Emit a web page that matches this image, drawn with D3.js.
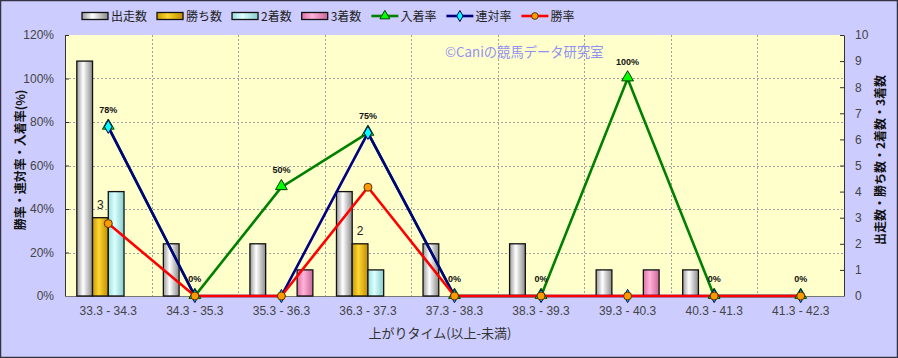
<!DOCTYPE html>
<html><head><meta charset="utf-8">
<script src="https://cdn.jsdelivr.net/npm/d3@7"></script>
<style>body{margin:0;background:#fff}svg{display:block}</style>
</head><body><svg id="c" width="898" height="358"></svg>
<script>
const categories = ["33.3 - 34.3","34.3 - 35.3","35.3 - 36.3","36.3 - 37.3","37.3 - 38.3","38.3 - 39.3","39.3 - 40.3","40.3 - 41.3","41.3 - 42.3"];
const starts   = [9,2,2,4,2,2,1,1,0];
const wins     = [3,0,0,2,0,0,0,0,0];
const seconds  = [4,0,0,1,0,0,0,0,0];
const thirds   = [0,0,1,0,0,0,1,0,0];
const placeRate    = [77.8,0,50,75,0,0,100,0,0];
const quinellaRate = [77.8,0,0,75,0,0,0,0,0];
const winRate      = [33.3,0,0,50,0,0,0,0,0];
const placeLabels  = ["78%","0%","50%","75%","0%","0%","100%","0%","0%"];
const winLabels    = ["3","","","2","","","","",""];
const leftTicks  = [0,20,40,60,80,100,120];
const rightTicks = [0,1,2,3,4,5,6,7,8,9,10];
const barNames  = ["出走数","勝ち数","2着数","3着数"];
const lineNames = ["入着率","連対率","勝率"];
const leftTitle  = "勝率・連対率・入着率(%)";
const rightTitle = "出走数・勝ち数・2着数・3着数";
const xTitle     = "上がりタイム(以上-未満)";
const watermark  = "©Caniの競馬データ研究室";

const svg = d3.select("#c");
const W = 898, H = 358;
const L = 65, R = 844, T = 35, B = 296;
const jp = "'Noto Sans CJK JP','Noto Sans',sans-serif";
const num = "'Liberation Sans',Arial,sans-serif";

// background
svg.append("rect").attr("x",0.5).attr("y",0.5).attr("width",W-1).attr("height",H-1)
  .attr("fill","#ccccff").attr("stroke","#333344").attr("stroke-width",1.5);
svg.append("rect").attr("x",L).attr("y",T).attr("width",R-L).attr("height",B-T).attr("fill","#ffffcc");

const x = d3.scaleBand().domain(categories).range([L,R]).paddingInner(0).paddingOuter(0);
const x1 = d3.scaleBand().domain(barNames).range([0,x.bandwidth()]).paddingInner(0).paddingOuter(0.75);
const yL = d3.scaleLinear().domain([0,120]).range([B,T]);
const yR = d3.scaleLinear().domain([0,10]).range([B,T]);

// gradients
const defs = svg.append("defs");
const grads = {
  "出走数":["#9a9a9a","#ffffff","#8a8a8a"],
  "勝ち数":["#c89a00","#ffd633","#c08c00"],
  "2着数":["#99dddd","#ddffff","#88cccc"],
  "3着数":["#dd6fa4","#ffb3d9","#cc6699"]
};
barNames.forEach((n,i)=>{
  const g = defs.append("linearGradient").attr("id","g"+i).attr("x1","0").attr("x2","1").attr("y1","0").attr("y2","0");
  g.append("stop").attr("offset","0").attr("stop-color",grads[n][0]);
  g.append("stop").attr("offset","0.4").attr("stop-color",grads[n][1]);
  g.append("stop").attr("offset","1").attr("stop-color",grads[n][2]);
});

// grid
const gridG = svg.append("g").attr("stroke","#a0a0a0").attr("stroke-dasharray","2,2").attr("stroke-width",1);
leftTicks.slice(1,-1).forEach(t=>{
  gridG.append("line").attr("x1",L).attr("x2",R).attr("y1",Math.round(yL(t))+0.5).attr("y2",Math.round(yL(t))+0.5);
});
categories.slice(1).forEach(c=>{
  gridG.append("line").attr("x1",Math.round(x(c))+0.5).attr("x2",Math.round(x(c))+0.5).attr("y1",T).attr("y2",B);
});

// axes
const axL = svg.append("g").attr("transform",`translate(${L},0)`)
  .call(d3.axisLeft(yL).tickValues(leftTicks).tickFormat(d=>d+"%").tickSizeInner(-4).tickSizeOuter(0).tickPadding(11));
const axR = svg.append("g").attr("transform",`translate(${R},0)`)
  .call(d3.axisRight(yR).tickValues(rightTicks).tickFormat(d=>d).tickSizeInner(-4).tickSizeOuter(0).tickPadding(11));
[axL,axR].forEach(a=>{
  a.selectAll("path,line").attr("stroke","#333");
  a.selectAll("text").attr("font-family",num).attr("font-size",12).attr("fill","#444");
});
svg.append("line").attr("x1",L).attr("x2",R).attr("y1",B+0.5).attr("y2",B+0.5).attr("stroke","#777").attr("stroke-width",1);

const axB = svg.append("g").attr("transform",`translate(0,${B})`)
  .call(d3.axisBottom(x).tickSize(0).tickPadding(10));
axB.select(".domain").remove();
axB.selectAll("text").attr("font-family",num).attr("font-size",12).attr("fill","#444");

// bars
const barData = [starts,wins,seconds,thirds];
barNames.forEach((n,i)=>{
  const rows = barData[i].map((v,j)=>({v,c:categories[j]})).filter(d=>d.v>0);
  svg.append("g").selectAll("rect").data(rows).join("rect")
    .attr("x",d=>x(d.c)+x1(n))
    .attr("width",x1.bandwidth())
    .attr("y",d=>yR(d.v)).attr("height",d=>yR(0)-yR(d.v))
    .attr("fill",`url(#g${i})`).attr("stroke","#111").attr("stroke-width",1.3);
});
// win count labels
svg.append("g").selectAll("text").data(winLabels).join("text")
  .attr("x",(d,j)=>x(categories[j])+x1("勝ち数")+x1.bandwidth()/2)
  .attr("y",(d,j)=>yR(wins[j])-9)
  .attr("text-anchor","middle").attr("font-family",num).attr("font-size",12).attr("fill","#222")
  .text(d=>d);

// watermark
svg.append("text").attr("x",445).attr("y",57).attr("font-family",jp).attr("font-size",13.3)
  .attr("fill","#9191f0").text(watermark);

// lines
const lineData = [placeRate,quinellaRate,winRate];
const lineColors = ["#008000","#000080","#ff0000"];
const markFill = ["#00ff00","#00ffff","#ff9900"];
const markStroke = ["#004000","#000060","#553300"];
const cx = j => x(categories[j]) + x.bandwidth()/2;
const symbols = [d3.symbolTriangle, d3.symbolDiamond, d3.symbolCircle];
const symSizes = [60, 50, 50];
lineData.forEach((arr,i)=>{
  svg.append("path").datum(arr)
    .attr("d",d3.line().x((d,j)=>cx(j)).y(d=>yL(d)))
    .attr("fill","none").attr("stroke",lineColors[i]).attr("stroke-width",2.6);
});
lineData.forEach((arr,i)=>{
  svg.append("g").selectAll("path").data(arr).join("path")
    .attr("transform",(d,j)=>`translate(${cx(j)},${yL(d)-(i===0?1:0)})`)
    .attr("d",d3.symbol().type(symbols[i]).size(symSizes[i]))
    .attr("fill",markFill[i]).attr("stroke",markStroke[i]).attr("stroke-width",1);
});
// place-rate labels
svg.append("g").selectAll("text").data(placeLabels).join("text")
  .attr("x",(d,j)=>cx(j)).attr("y",(d,j)=>yL(placeRate[j])-14)
  .attr("text-anchor","middle").attr("font-family",num).attr("font-weight","bold")
  .attr("font-size",9).attr("fill","#111").text(d=>d);

// titles
svg.append("text").attr("transform","translate(25,160) rotate(-90)").attr("text-anchor","middle")
  .attr("font-family",jp).attr("font-weight","bold").attr("font-size",12).attr("fill","#111").text(leftTitle);
svg.append("text").attr("transform","translate(885,160) rotate(-90)").attr("text-anchor","middle")
  .attr("font-family",jp).attr("font-weight","bold").attr("font-size",12).attr("fill","#111").text(rightTitle);
svg.append("text").attr("x",440).attr("y",338).attr("text-anchor","middle")
  .attr("font-family",jp).attr("font-size",13).attr("fill","#333").text(xTitle);

// legend
const leg = svg.append("g");
let lx = 82; const ly = 16;
const items = barNames.map((n,i)=>({n,type:"bar",i})).concat(lineNames.map((n,i)=>({n,type:"line",i})));
items.forEach(it=>{
  if(it.type==="bar"){
    leg.append("rect").attr("x",lx).attr("y",ly-3.5).attr("width",26).attr("height",7)
      .attr("fill",`url(#g${it.i})`).attr("stroke","#111").attr("stroke-width",1.3);
  } else {
    leg.append("line").attr("x1",lx).attr("x2",lx+27).attr("y1",ly).attr("y2",ly)
      .attr("stroke",lineColors[it.i]).attr("stroke-width",2.6);
    leg.append("path").attr("transform",`translate(${lx+13.5},${ly})`)
      .attr("d",d3.symbol().type(symbols[it.i]).size(symSizes[it.i]*0.7))
      .attr("fill",markFill[it.i]).attr("stroke",markStroke[it.i]).attr("stroke-width",1);
  }
  const t = leg.append("text").attr("x",lx+29).attr("y",ly+4.5).attr("font-family",jp)
    .attr("font-size",12).attr("fill","#222").text(it.n);
  lx += 29 + t.node().getComputedTextLength() + 10;
});
</script></body></html>
